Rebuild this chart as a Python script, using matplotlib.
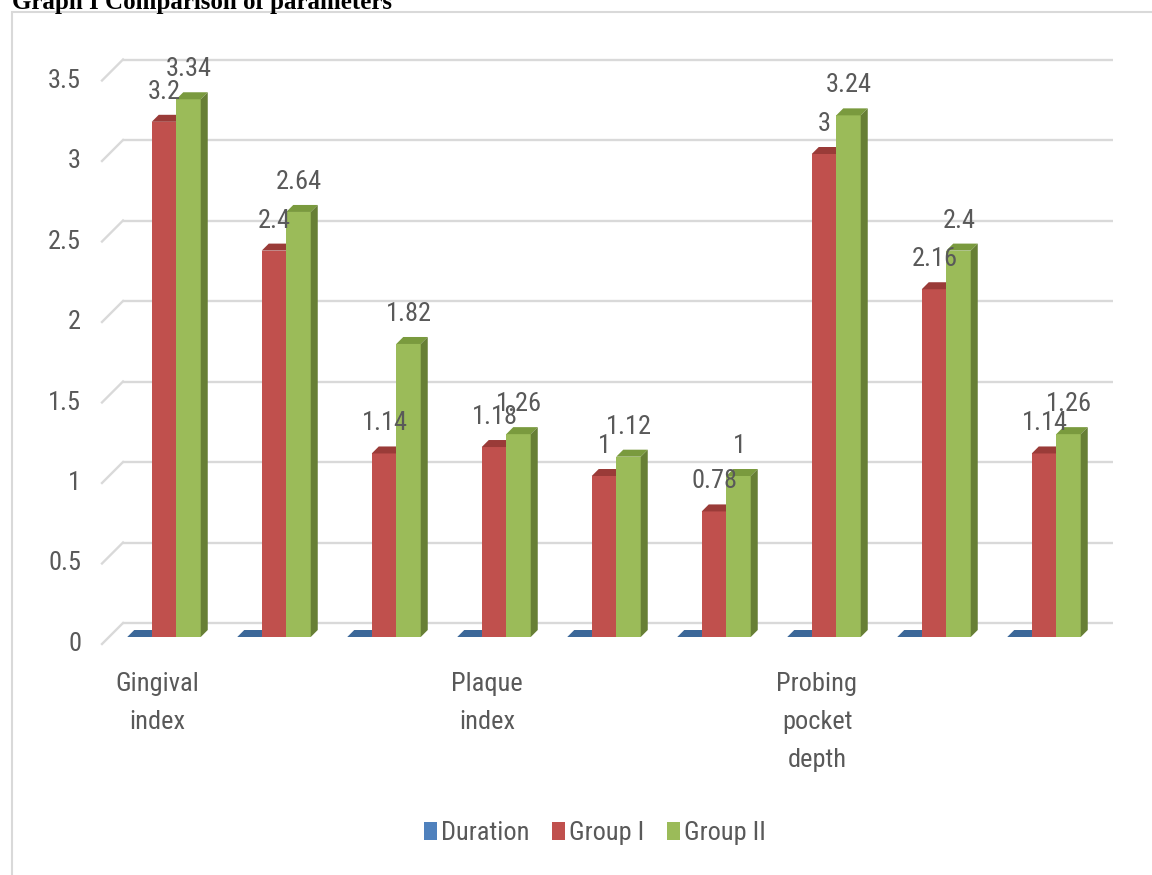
import matplotlib
matplotlib.use("Agg")
import matplotlib.pyplot as plt
from matplotlib.patches import Polygon, Rectangle, Patch
from matplotlib import font_manager as fm

# ---------------- data ----------------
categories = ["Gingival\nindex", "", "", "Plaque\nindex", "", "",
              "Probing\npocket\ndepth", "", ""]
series_names = ["Duration", "Group I", "Group II"]
duration = [0, 0, 0, 0, 0, 0, 0, 0, 0]
group1 = [3.2, 2.4, 1.14, 1.18, 1.0, 0.78, 3.0, 2.16, 1.14]
group2 = [3.34, 2.64, 1.82, 1.26, 1.12, 1.0, 3.24, 2.4, 1.26]
y_ticks = [0, 0.5, 1, 1.5, 2, 2.5, 3, 3.5]
y_tick_labels = ["0", "0.5", "1", "1.5", "2", "2.5", "3", "3.5"]
title = "Graph I Comparison of parameters"

# ---------------- style ----------------
front_cols = ["#4F81BD", "#C0504D", "#9BBB59"]
top_cols = ["#3C6899", "#9A3B38", "#7A9A3E"]
side_cols = ["#35608F", "#8E3633", "#677F35"]
TXT = "#595959"
GRID = "#D9D9D9"

names = {f.name for f in fm.fontManager.ttflist}
SANS, STRETCH, FS = "DejaVu Sans", "condensed", 17.5
for cand, fs in [("Liberation Sans Narrow", 19), ("Roboto Condensed", 19),
                 ("Open Sans Condensed", 19)]:
    if cand in names:
        SANS, STRETCH, FS = cand, "normal", fs
        break

W, H, DPI = 1152, 875, 100
fig = plt.figure(figsize=(W / DPI, H / DPI), dpi=DPI)
ax = fig.add_axes([0, 0, 1, 1])
ax.set_axis_off()

# pixel <-> data mapping (bar front plane)
PX_X = 110.0     # pixels per category
PX_Y = 161.0     # pixels per value unit
X0, Y0 = 164.0, 637.0
ax.set_xlim(-X0 / PX_X, (W - X0) / PX_X)
ax.set_ylim((Y0 - H) / PX_Y, Y0 / PX_Y)

def dxp(p):
    return p / PX_X

def dyp(p):
    return p / PX_Y

xmin, xmax = -0.5, 8.5
back = 14    # px offset of back wall
front = 7    # px offset of front (label) plane
depth = 7    # bar depth px

# gridlines on back wall + left wall diagonals
for v in y_ticks:
    ax.plot([xmin + dxp(back), xmax + dxp(back)], [v + dyp(back)] * 2,
            color=GRID, lw=1.7, zorder=1, solid_capstyle="butt")
    ax.plot([xmin - dxp(front), xmin + dxp(back)],
            [v - dyp(front), v + dyp(back)], color=GRID, lw=1.7, zorder=1)

# y tick labels
for v, lab in zip(y_ticks, y_tick_labels):
    ax.annotate(lab, xy=(xmin - dxp(front), v - dyp(front)), xytext=(-21 * 0.72, 0),
                textcoords="offset points", ha="right", va="center",
                fontsize=FS, family=SANS, fontstretch=STRETCH, color=TXT)

# bars
bw = 24.5 / PX_X
all_series = [duration, group1, group2]
for s, vals in enumerate(all_series):
    offs = (s - 1) * bw
    xs = [i + offs for i in range(len(vals))]
    ax.bar(xs, vals, width=bw, color=front_cols[s], zorder=3 + s, linewidth=0)
    for x, v in zip(xs, vals):
        L, R = x - bw / 2, x + bw / 2
        ax.add_patch(Polygon([(L, v), (R, v), (R + dxp(depth), v + dyp(depth)),
                              (L + dxp(depth), v + dyp(depth))],
                             closed=True, facecolor=top_cols[s], edgecolor="none",
                             zorder=3 + s))
        if v > 0:
            ax.add_patch(Polygon([(R, 0), (R + dxp(depth), dyp(depth)),
                                  (R + dxp(depth), v + dyp(depth)), (R, v)],
                                 closed=True, facecolor=side_cols[s],
                                 edgecolor="none", zorder=3 + s))
    if s > 0:
        for x, v in zip(xs, vals):
            lab = ("%g" % v)
            ax.annotate(lab, xy=(x, v), xytext=(0.5, 30 * 0.72),
                        textcoords="offset points", ha="center", va="center",
                        fontsize=FS, family=SANS, fontstretch=STRETCH,
                        color=TXT, zorder=10)

# category labels
for i, c in enumerate(categories):
    if c:
        ax.annotate(c, xy=(i - dxp(front), -dyp(front)), xytext=(0, -28 * 0.72),
                    textcoords="offset points", ha="center", va="top",
                    fontsize=FS, family=SANS, fontstretch=STRETCH, color=TXT,
                    linespacing=1.74, multialignment="center")

# legend
handles = [Patch(facecolor=c, edgecolor="none") for c in front_cols]
fig.legend(handles, series_names, loc="center", ncol=3, frameon=False,
           bbox_to_anchor=(595 / W, 1 - 833 / H),
           prop=fm.FontProperties(family=SANS, size=FS, stretch=STRETCH),
           labelcolor=TXT, handlelength=0.5, handleheight=0.7,
           handletextpad=0.15, columnspacing=0.85)

# outer frame and title
fig.patches.append(Rectangle((12 / W, -0.1), 2.0, 1 - 12 / H + 0.1,
                             transform=fig.transFigure, fill=False,
                             edgecolor=GRID, lw=1.5))
fig.text(12 / W, 1 - 9 / H, title, family="Liberation Serif", weight="bold",
         fontsize=18, va="baseline", ha="left", color="black")

fig.savefig("out.png", dpi=DPI)
